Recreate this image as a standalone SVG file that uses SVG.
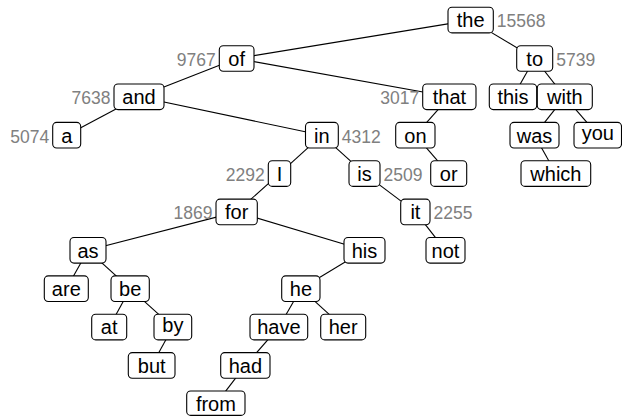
<svg xmlns="http://www.w3.org/2000/svg" width="622" height="416" viewBox="0 0 622 416">
  <style>
    .box { fill: #ffffff; stroke: #000000; stroke-width: 1.1; }
    .w { font-family: "Liberation Sans", Arial, sans-serif; font-size: 20px; fill: #000000; text-anchor: middle; }
    .n { font-family: "Liberation Sans", Arial, sans-serif; font-size: 17.5px; fill: #808080; }
    .l { text-anchor: end; }
    .r { text-anchor: start; }
    .edges line { stroke: #000000; stroke-width: 1.1; }
  </style>
  <rect width="622" height="416" fill="#ffffff"/>

  <!-- tree edges, centre to centre, hidden under the boxes -->
  <g id="edges" class="edges">
    <line x1="470.7" y1="20.1" x2="236.7" y2="58.5"/>
    <line x1="470.7" y1="20.1" x2="534.7" y2="58.5"/>
    <line x1="236.7" y1="58.5" x2="139" y2="96.8"/>
    <line x1="236.7" y1="58.5" x2="449.4" y2="96.8"/>
    <line x1="534.7" y1="58.5" x2="513" y2="96.8"/>
    <line x1="534.7" y1="58.5" x2="564.8" y2="96.8"/>
    <line x1="139" y1="96.8" x2="66.7" y2="135.2"/>
    <line x1="139" y1="96.8" x2="321.9" y2="135.2"/>
    <line x1="449.4" y1="96.8" x2="415.4" y2="135.2"/>
    <line x1="415.4" y1="135.2" x2="448.7" y2="173.6"/>
    <line x1="564.8" y1="96.8" x2="534.5" y2="135.2"/>
    <line x1="564.8" y1="96.8" x2="597.9" y2="135.2"/>
    <line x1="534.5" y1="135.2" x2="555.9" y2="173.6"/>
    <line x1="321.9" y1="135.2" x2="279.5" y2="173.6"/>
    <line x1="321.9" y1="135.2" x2="364.5" y2="173.6"/>
    <line x1="279.5" y1="173.6" x2="236.7" y2="211.9"/>
    <line x1="364.5" y1="173.6" x2="415.4" y2="211.9"/>
    <line x1="415.4" y1="211.9" x2="445.5" y2="250.3"/>
    <line x1="236.7" y1="211.9" x2="88" y2="250.3"/>
    <line x1="236.7" y1="211.9" x2="364.5" y2="250.3"/>
    <line x1="88" y1="250.3" x2="66.3" y2="288.7"/>
    <line x1="88" y1="250.3" x2="130.2" y2="288.7"/>
    <line x1="130.2" y1="288.7" x2="109.2" y2="327.1"/>
    <line x1="130.2" y1="288.7" x2="172.9" y2="327.1"/>
    <line x1="172.9" y1="327.1" x2="151.7" y2="365.4"/>
    <line x1="364.5" y1="250.3" x2="300.9" y2="288.7"/>
    <line x1="300.9" y1="288.7" x2="278.9" y2="327.1"/>
    <line x1="300.9" y1="288.7" x2="343.2" y2="327.1"/>
    <line x1="278.9" y1="327.1" x2="245.4" y2="365.4"/>
    <line x1="245.4" y1="365.4" x2="215.9" y2="403.8"/>
  </g>

  <!-- row 0 -->
  <g id="n-the"><rect class="box" x="448" y="7.3" width="45.3" height="25.6" rx="4"/><text class="w" x="470.7" y="27.4">the</text><text class="n r" x="496.8" y="27.4">15568</text></g>
  <!-- row 1 -->
  <g id="n-of"><rect class="box" x="219.3" y="45.7" width="34.7" height="25.6" rx="4"/><text class="w" x="236.7" y="65.8">of</text><text class="n l" x="215.8" y="65.8">9767</text></g>
  <g id="n-to"><rect class="box" x="516.7" y="45.7" width="36" height="25.6" rx="4"/><text class="w" x="534.7" y="65.8">to</text><text class="n r" x="556.2" y="65.8">5739</text></g>
  <!-- row 2 -->
  <g id="n-and"><rect class="box" x="114" y="84" width="50" height="25.6" rx="4"/><text class="w" x="139" y="104.1">and</text><text class="n l" x="110.5" y="104.1">7638</text></g>
  <g id="n-that"><rect class="box" x="422.7" y="84" width="53.3" height="25.6" rx="4"/><text class="w" x="449.4" y="104.1">that</text><text class="n l" x="419.2" y="104.1">3017</text></g>
  <g id="n-this"><rect class="box" x="489.3" y="84" width="47.4" height="25.6" rx="4"/><text class="w" x="513" y="104.1">this</text></g>
  <g id="n-with"><rect class="box" x="537.3" y="84" width="55" height="25.6" rx="4"/><text class="w" x="564.8" y="104.1">with</text></g>
  <!-- row 3 -->
  <g id="n-a"><rect class="box" x="52.7" y="122.4" width="28" height="25.6" rx="4"/><text class="w" x="66.7" y="142.5">a</text><text class="n l" x="49.2" y="142.5">5074</text></g>
  <g id="n-in"><rect class="box" x="305.5" y="122.4" width="32.8" height="25.6" rx="4"/><text class="w" x="321.9" y="142.5">in</text><text class="n r" x="341.8" y="142.5">4312</text></g>
  <g id="n-on"><rect class="box" x="395.7" y="122.4" width="39.3" height="25.6" rx="4"/><text class="w" x="415.4" y="142.5">on</text></g>
  <g id="n-was"><rect class="box" x="510" y="122.4" width="49" height="25.6" rx="4"/><text class="w" x="534.5" y="142.5">was</text></g>
  <g id="n-you"><rect class="box" x="574" y="122.4" width="47.5" height="25.6" rx="4"/><text class="w" x="597.8" y="139.5">you</text></g>
  <!-- row 4 -->
  <g id="n-I"><rect class="box" x="268.3" y="160.8" width="22.4" height="25.6" rx="4"/><text class="w" x="279.5" y="180.9">I</text><text class="n l" x="264.8" y="180.9">2292</text></g>
  <g id="n-is"><rect class="box" x="349" y="160.8" width="31" height="25.6" rx="4"/><text class="w" x="364.5" y="180.9">is</text><text class="n r" x="383.5" y="180.9">2509</text></g>
  <g id="n-or"><rect class="box" x="430.7" y="160.8" width="36" height="25.6" rx="4"/><text class="w" x="448.7" y="180.9">or</text></g>
  <g id="n-which"><rect class="box" x="521" y="160.8" width="69.7" height="25.6" rx="4"/><text class="w" x="555.9" y="180.9">which</text></g>
  <!-- row 5 -->
  <g id="n-for"><rect class="box" x="216" y="199.1" width="41.3" height="25.6" rx="4"/><text class="w" x="236.7" y="219.2">for</text><text class="n l" x="212.5" y="219.2">1869</text></g>
  <g id="n-it"><rect class="box" x="400.7" y="199.1" width="29.3" height="25.6" rx="4"/><text class="w" x="415.4" y="219.2">it</text><text class="n r" x="433.5" y="219.2">2255</text></g>
  <!-- row 6 -->
  <g id="n-as"><rect class="box" x="70" y="237.5" width="36" height="25.6" rx="4"/><text class="w" x="88" y="257.6">as</text></g>
  <g id="n-his"><rect class="box" x="344" y="237.5" width="41" height="25.6" rx="4"/><text class="w" x="364.5" y="257.6">his</text></g>
  <g id="n-not"><rect class="box" x="426" y="237.5" width="39" height="25.6" rx="4"/><text class="w" x="445.5" y="257.6">not</text></g>
  <!-- row 7 -->
  <g id="n-are"><rect class="box" x="44.3" y="275.9" width="44" height="25.6" rx="4"/><text class="w" x="66.3" y="296">are</text></g>
  <g id="n-be"><rect class="box" x="111" y="275.9" width="38.3" height="25.6" rx="4"/><text class="w" x="130.2" y="296">be</text></g>
  <g id="n-he"><rect class="box" x="281.7" y="275.9" width="38.3" height="25.6" rx="4"/><text class="w" x="300.9" y="296">he</text></g>
  <!-- row 8 -->
  <g id="n-at"><rect class="box" x="91.7" y="314.3" width="35" height="25.6" rx="4"/><text class="w" x="109.2" y="334.4">at</text></g>
  <g id="n-by"><rect class="box" x="154" y="314.3" width="37.7" height="25.6" rx="4"/><text class="w" x="172.9" y="331.6">by</text></g>
  <g id="n-have"><rect class="box" x="250" y="314.3" width="57.7" height="25.6" rx="4"/><text class="w" x="278.9" y="334.4">have</text></g>
  <g id="n-her"><rect class="box" x="320.7" y="314.3" width="45" height="25.6" rx="4"/><text class="w" x="343.2" y="334.4">her</text></g>
  <!-- row 9 -->
  <g id="n-but"><rect class="box" x="128.3" y="352.6" width="46.7" height="25.6" rx="4"/><text class="w" x="151.7" y="372.7">but</text></g>
  <g id="n-had"><rect class="box" x="220.7" y="352.6" width="49.3" height="25.6" rx="4"/><text class="w" x="245.4" y="372.7">had</text></g>
  <!-- row 10 -->
  <g id="n-from"><rect class="box" x="186.7" y="391" width="58.3" height="24.4" rx="4"/><text class="w" x="215.9" y="410.6">from</text></g>
</svg>
